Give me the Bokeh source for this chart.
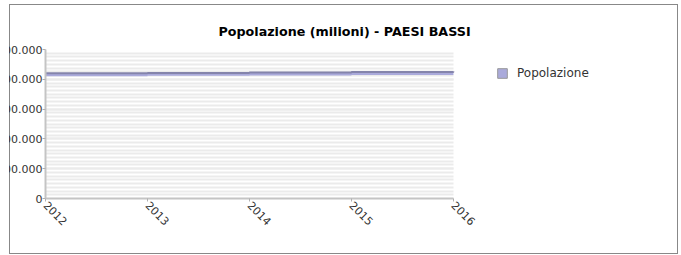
from bokeh.plotting import figure
from bokeh.models import (FixedTicker, CustomJSTickFormatter, Legend, LegendItem,
                          ColumnDataSource, Range1d)
from bokeh.transform import dodge
from bokeh.embed import file_html
from bokeh.resources import INLINE

# ---- data ----
years = [2012, 2013, 2014, 2015, 2016]
popolazione = [16730000, 16780000, 16830000, 16900000, 16980000]
y_ticks = [0, 4000000, 8000000, 12000000, 16000000, 20000000]
x_ticks = [2012, 2013, 2014, 2015, 2016]
title_text = "Popolazione (milioni) - PAESI BASSI"
series_name = "Popolazione"

FONT = "DejaVu Sans"

# layout: plot area 406 px for the 4 years, then 225 px of legend room
PLOT_W = 406
EXTRA_W = 225
x_end = x_ticks[-1] + (x_ticks[-1] - x_ticks[0]) * EXTRA_W / PLOT_W

src = ColumnDataSource(data=dict(year=years, pop=popolazione))

p = figure(width=714, height=250, output_backend="svg", toolbar_location=None,
           x_range=Range1d(x_ticks[0], x_end), y_range=Range1d(y_ticks[0], y_ticks[-1]),
           min_border_left=80, min_border_right=0, min_border_top=44, min_border_bottom=57,
           margin=(4, 0, 0, -36), outline_line_color=None,
           background_fill_color="#ffffff", border_fill_alpha=0)
p.styles = {
    "border": "1px solid #888888",
    "clip-path": "inset(0px 0px 0px 45px)",
    "background": "linear-gradient(to right, transparent 44px, #888888 44px, "
                  "#888888 45px, #ffffff 45px)",
}

p.title.text = title_text
p.title.align = "left"
p.title.offset = 173
p.title.text_font = FONT
p.title.text_font_size = "12.7px"
p.title.text_font_style = "bold"
p.title.text_color = "#000000"
p.title.standoff = 22

minor = list(range(y_ticks[0], y_ticks[-1] + 1, 500000))
p.yaxis.ticker = FixedTicker(ticks=y_ticks, minor_ticks=minor)
p.yaxis.formatter = CustomJSTickFormatter(
    code='return Math.round(tick).toString().replace(/\\B(?=(\\d{3})+(?!\\d))/g, ".");')
p.xaxis.ticker = FixedTicker(ticks=x_ticks)
p.xaxis.bounds = (x_ticks[0], x_ticks[-1])
p.xaxis.major_label_orientation = -0.785398

for ax in (p.xaxis[0], p.yaxis[0]):
    ax.axis_line_color = "#c4c4c4"
    ax.axis_line_width = 2
    ax.major_tick_line_color = "#b0b0b0"
    ax.major_tick_in = 0
    ax.major_tick_out = 3
    ax.minor_tick_line_color = None
    ax.major_label_text_font = FONT
    ax.major_label_text_font_size = "11px"
    ax.major_label_text_color = "#333333"
p.yaxis.major_label_standoff = -1
p.xaxis.major_label_standoff = 2

p.xgrid.grid_line_color = None
yg = p.ygrid[0]
yg.grid_line_color = "#ebebeb"
yg.grid_line_width = 2
yg.minor_grid_line_color = "#ebebeb"
yg.minor_grid_line_width = 2
if "cross_bounds" in yg.properties():
    yg.cross_bounds = (x_ticks[0], x_ticks[-1])

# series: 3D-like stepped band (lavender face + darker top edge)
band = p.varea_step(x="year", y1="pop", y2=dodge("pop", -320000), step_mode="after",
                    source=src, fill_color="#aaaadb")
p.step(x="year", y=dodge("pop", 80000), mode="after", source=src,
       line_color="#8484ab", line_width=2)

# swatch outline for the legend only (renderer itself not drawn)
swatch = p.vbar(x="year", top="pop", width=0.5, source=src, fill_color="#aaaadb",
                line_color="#9a9a9a", line_width=1, visible=False)

legend = Legend(items=[LegendItem(label=series_name, renderers=[band, swatch])],
                location=(451, 115), margin=0, padding=0, spacing=0,
                border_line_color=None, background_fill_alpha=0,
                glyph_width=12, glyph_height=12, label_height=20, label_standoff=9,
                label_text_font=FONT, label_text_font_size="12px",
                label_text_color="#333333")
p.add_layout(legend)

open("out.html", "w").write(file_html(p, INLINE))
